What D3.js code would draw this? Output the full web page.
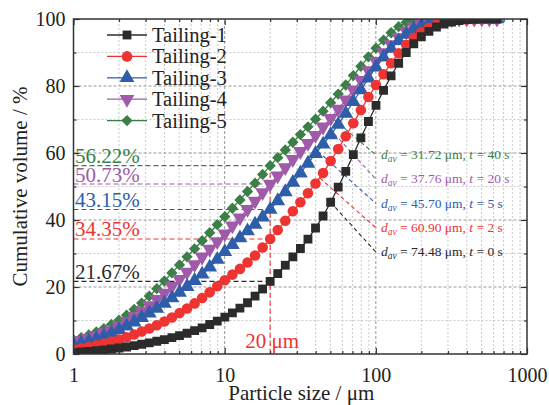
<!DOCTYPE html>
<meta charset="utf-8">
<html lang="en">
<style>
body { margin: 0; background: #fff; }
text { font-family: "Liberation Serif", "Times New Roman", serif; }
.grid-minor { stroke: #bdbdbd; stroke-width: 0.8px; stroke-dasharray: 2,2; }
.grid-major { stroke: #8a8a8a; stroke-width: 0.9px; stroke-dasharray: 3,2; }
.axis path { display: none; }
.axis line { stroke: #333; stroke-width: 1.2px; }
.axis text { font-size: 20px; fill: #222; }
.frame { fill: none; stroke: #333; stroke-width: 1.5px; }
</style>
<body>
<div id="chart"></div>
<script src="https://cdn.jsdelivr.net/npm/d3@7"></script>
<script>
// particle sizes (um), laser diffraction bins
var sizes = [1.002, 1.125, 1.262, 1.416, 1.589, 1.783, 2.000, 2.244, 2.518, 2.825,
  3.170, 3.557, 3.991, 4.477, 5.024, 5.637, 6.325, 7.096, 7.962, 8.934,
  10.024, 11.247, 12.619, 14.159, 15.887, 17.825, 20.000, 22.440, 25.179, 28.251,
  31.698, 35.566, 39.905, 44.774, 50.238, 56.368, 63.246, 70.963, 79.621, 89.337,
  100.237, 112.468, 126.191, 141.589, 158.866, 178.250, 200.000, 224.404, 251.785, 282.508,
  316.979, 355.656, 399.052, 447.744, 502.377, 563.677, 632.456];

// cumulative volume (%)
var tailing1 = [0.4, 0.6, 0.8, 1.0, 1.2, 1.5, 1.8, 2.1, 2.5, 2.9,
  3.3, 3.8, 4.3, 4.9, 5.5, 6.2, 7.0, 7.8, 8.8, 9.8,
  11.0, 12.3, 13.7, 15.3, 17.3, 19.4, 21.67, 24.0, 26.5, 29.0,
  31.5, 34.3, 37.6, 41.2, 45.3, 49.8, 54.5, 59.5, 64.5, 69.4,
  74.2, 78.7, 83.0, 86.8, 90.0, 92.6, 94.7, 96.3, 97.6, 98.5,
  99.1, 99.5, 99.8, 99.9, 100, 100, 100];
var tailing2 = [1.3, 1.7, 2.1, 2.6, 3.1, 3.7, 4.3, 5.0, 5.8, 6.7,
  7.6, 8.6, 9.7, 10.9, 12.2, 13.6, 15.1, 16.7, 18.4, 20.2,
  22.0, 23.7, 25.4, 27.3, 29.4, 31.8, 34.35, 37.0, 39.8, 42.6,
  45.3, 48.0, 50.9, 54.0, 57.6, 61.2, 65.0, 68.9, 72.8, 76.7,
  80.3, 83.5, 86.8, 89.8, 92.3, 94.4, 96.0, 97.3, 98.3, 99.0,
  99.4, 99.7, 99.85, 99.95, 100, 100, 100];
var tailing3 = [2.7, 3.2, 3.8, 4.5, 5.3, 6.2, 7.2, 8.3, 9.5, 10.8,
  12.2, 13.6, 15.1, 16.7, 18.4, 20.1, 21.9, 23.8, 25.9, 28.2,
  30.5, 32.6, 34.6, 36.7, 38.7, 40.8, 43.15, 45.7, 48.4, 51.2,
  54.0, 56.9, 59.8, 62.6, 65.4, 68.5, 71.8, 75.3, 78.8, 82.3,
  85.6, 88.6, 91.2, 93.5, 95.4, 96.9, 98.0, 98.8, 99.3, 99.6,
  99.8, 99.9, 100, 100, 100, 100, 100];
var tailing4 = [3.4, 4.0, 4.7, 5.5, 6.4, 7.4, 8.5, 9.8, 11.2, 12.8,
  14.5, 16.3, 18.2, 20.2, 22.3, 24.5, 26.7, 29.0, 31.3, 33.6,
  35.9, 38.3, 40.7, 43.2, 45.7, 48.2, 50.73, 53.2, 55.7, 58.1,
  60.5, 62.9, 65.3, 67.8, 70.4, 73.1, 75.9, 78.8, 81.7, 84.6,
  87.4, 90.0, 92.4, 94.5, 96.3, 97.7, 98.7, 99.3, 99.6, 99.8,
  99.9, 100, 100, 100, 100, 100, 100];
var tailing5 = [4.2, 4.9, 5.7, 6.6, 7.6, 8.8, 10.1, 11.6, 13.3, 15.2,
  17.3, 19.5, 21.8, 24.2, 26.6, 29.0, 31.4, 33.8, 36.2, 38.6,
  41.0, 43.5, 46.0, 48.5, 51.0, 53.6, 56.22, 58.6, 60.9, 63.2,
  65.5, 67.8, 70.1, 72.5, 75.0, 77.6, 80.3, 83.1, 85.9, 88.7,
  91.3, 93.7, 95.9, 97.7, 99.0, 99.7, 100, 100, 100, 100,
  100, 100, 100, 100, 100, 100, 100];

var names = ["Tailing-1", "Tailing-2", "Tailing-3", "Tailing-4", "Tailing-5"];
var colors = ["#2b2b2b", "#ee3333", "#2e5daa", "#a05aaa", "#3a7f45"];
var seriesValues = [tailing1, tailing2, tailing3, tailing4, tailing5];

// values at 20 um and the mean sizes
var at20 = [21.67, 34.35, 43.15, 50.73, 56.22];
var at20Labels = ["21.67%", "34.35%", "43.15%", "50.73%", "56.22%"];
var davLabels = ["74.48", "60.90", "45.70", "37.76", "31.72"];
var timeLabels = ["0", "2", "5", "20", "40"];
// leader line start on each curve [size, value]
var leaderFrom = [[50.2, 45.3], [42.7, 52.5], [41.4, 60.5], [46, 68.8], [45, 72.7]];

var xTicks = [1, 10, 100, 1000];
var yTicks = [0, 20, 40, 60, 80, 100];
var yMinor = [10, 30, 50, 70, 90];
var xMinor = [];
[1, 10, 100].forEach(function(d){ for (var k = 2; k <= 9; k++) xMinor.push(k * d); });

var width = 549, height = 405,
    margin = {top: 19, right: 22, bottom: 51, left: 73.5};

var svg = d3.select("#chart").append("svg")
    .attr("width", width).attr("height", height);

var x = d3.scaleLog().domain([1, 1000]).range([margin.left, width - margin.right]);
var y = d3.scaleLinear().domain([0, 100]).range([height - margin.bottom, margin.top]);

svg.append("defs").append("clipPath").attr("id", "clip")
  .append("rect")
  .attr("x", x(1)).attr("y", y(100))
  .attr("width", x(1000) - x(1)).attr("height", y(0) - y(100));

// grid
var grid = svg.append("g");
grid.selectAll(".gx").data(xMinor).enter().append("line")
  .attr("class", "grid-minor")
  .attr("x1", x).attr("x2", x).attr("y1", y(0)).attr("y2", y(100));
grid.selectAll(".gxm").data([10, 100]).enter().append("line")
  .attr("class", "grid-major")
  .attr("x1", x).attr("x2", x).attr("y1", y(0)).attr("y2", y(100));
grid.selectAll(".gy").data(yMinor).enter().append("line")
  .attr("class", "grid-minor")
  .attr("x1", x(1)).attr("x2", x(1000)).attr("y1", y).attr("y2", y);
grid.selectAll(".gym").data([20, 40, 60, 80]).enter().append("line")
  .attr("class", "grid-major")
  .attr("x1", x(1)).attr("x2", x(1000)).attr("y1", y).attr("y2", y);

// annotations at 20 um
var ann = svg.append("g");
ann.selectAll(".hl").data(at20).enter().append("line")
  .attr("x1", x(1)).attr("x2", x(20))
  .attr("y1", y).attr("y2", y)
  .attr("stroke", function(d, i){ return colors[i]; })
  .attr("stroke-width", 1.1)
  .attr("stroke-dasharray", "5,3");
ann.append("line")
  .attr("x1", x(20)).attr("x2", x(20))
  .attr("y1", y(0)).attr("y2", y(d3.max(at20)))
  .attr("stroke", colors[1]).attr("stroke-width", 1.1)
  .attr("stroke-dasharray", "5,3");
ann.selectAll(".pl").data(at20).enter().append("text")
  .attr("x", x(1) + 1.5)
  .attr("y", function(d){ return y(d) - 2.5; })
  .attr("fill", function(d, i){ return colors[i]; })
  .style("font-size", "21px")
  .text(function(d, i){ return at20Labels[i]; });
ann.append("text")
  .attr("x", x(20) + 2).attr("y", y(0) - 6)
  .attr("text-anchor", "middle")
  .attr("fill", colors[1])
  .style("font-size", "21px")
  .text("20 \u03bcm");

// mean size labels with leader lines
var labelX = 381, labelY0 = 159, labelStep = 24.3;
var order = [4, 3, 2, 1, 0];
order.forEach(function(i, row){
  var by = labelY0 + row * labelStep;
  ann.append("line")
    .attr("x1", x(leaderFrom[i][0])).attr("y1", y(leaderFrom[i][1]))
    .attr("x2", labelX - 5).attr("y2", by - 4)
    .attr("stroke", colors[i]).attr("stroke-width", 1.1)
    .attr("stroke-dasharray", "4,3");
  var t = ann.append("text")
    .attr("x", labelX).attr("y", by)
    .attr("fill", colors[i])
    .style("font-size", "13.5px");
  t.append("tspan").style("font-style", "italic").text("d");
  t.append("tspan").style("font-style", "italic").style("font-size", "9.5px").attr("dy", 3).text("av");
  t.append("tspan").attr("dy", -3).text(" = " + davLabels[i] + " \u03bcm, ");
  t.append("tspan").style("font-style", "italic").text("t");
  t.append("tspan").text(" = " + timeLabels[i] + " s");
});

// series
var symbols = [
  {type: d3.symbolSquare, size: 78, rot: 0},
  {type: d3.symbolCircle, size: 88, rot: 0},
  {type: d3.symbolTriangle, size: 95, rot: 0},
  {type: d3.symbolTriangle, size: 95, rot: 180},
  {type: d3.symbolSquare, size: 64, rot: 45}
];
var line = d3.line()
  .x(function(d){ return x(d[0]); })
  .y(function(d){ return y(d[1]); });

var plot = svg.append("g").attr("clip-path", "url(#clip)");
[4, 3, 2, 1, 0].forEach(function(i){
  var pts = sizes.map(function(s, j){ return [s, seriesValues[i][j]]; });
  var g = plot.append("g");
  g.append("path").datum(pts)
    .attr("d", line).attr("fill", "none")
    .attr("stroke", colors[i]).attr("stroke-width", 1.3);
  g.selectAll("path.m").data(pts).enter().append("path")
    .attr("class", "m")
    .attr("d", d3.symbol().type(symbols[i].type).size(symbols[i].size))
    .attr("transform", function(d){
      return "translate(" + x(d[0]) + "," + y(d[1]) + ") rotate(" + symbols[i].rot + ")";
    })
    .attr("fill", colors[i]);
});

// axes (ticks inside, mirrored)
function tickAxis(axis, vals, size, labels) {
  return axis.tickValues(vals).tickSizeInner(-size).tickSizeOuter(0)
    .tickFormat(labels ? d3.format("d") : "");
}
var b = y(0), t0 = y(100), l = x(1), r = x(1000);
svg.append("g").attr("class", "axis").attr("transform", "translate(0," + b + ")")
  .call(tickAxis(d3.axisBottom(x), xTicks, 6, true).tickPadding(14));
svg.append("g").attr("class", "axis").attr("transform", "translate(0," + b + ")")
  .call(tickAxis(d3.axisBottom(x), xMinor, 3, false));
svg.append("g").attr("class", "axis").attr("transform", "translate(0," + t0 + ")")
  .call(tickAxis(d3.axisTop(x), xTicks, 6, false));
svg.append("g").attr("class", "axis").attr("transform", "translate(0," + t0 + ")")
  .call(tickAxis(d3.axisTop(x), xMinor, 3, false));
svg.append("g").attr("class", "axis").attr("transform", "translate(" + l + ",0)")
  .call(tickAxis(d3.axisLeft(y), yTicks, 6, true).tickPadding(8));
svg.append("g").attr("class", "axis").attr("transform", "translate(" + l + ",0)")
  .call(tickAxis(d3.axisLeft(y), yMinor, 3, false));
svg.append("g").attr("class", "axis").attr("transform", "translate(" + r + ",0)")
  .call(tickAxis(d3.axisRight(y), yTicks, 6, false));
svg.append("g").attr("class", "axis").attr("transform", "translate(" + r + ",0)")
  .call(tickAxis(d3.axisRight(y), yMinor, 3, false));

svg.append("rect").attr("class", "frame")
  .attr("x", l).attr("y", t0).attr("width", r - l).attr("height", b - t0);

// axis titles
svg.append("text")
  .attr("x", (l + r) / 2 + 1).attr("y", 400)
  .attr("text-anchor", "middle").style("font-size", "21px").attr("fill", "#222")
  .text("Particle size / \u03bcm");
svg.append("text")
  .attr("transform", "translate(27," + ((b + t0) / 2) + ") rotate(-90)")
  .attr("text-anchor", "middle").style("font-size", "21px").attr("fill", "#222")
  .text("Cumulative volume / %");

// legend
var legend = svg.append("g");
names.forEach(function(n, i){
  var ly = 35 + i * 21.4;
  legend.append("line")
    .attr("x1", 107).attr("x2", 147).attr("y1", ly).attr("y2", ly)
    .attr("stroke", colors[i]).attr("stroke-width", 1.3);
  legend.append("path")
    .attr("d", d3.symbol().type(symbols[i].type).size(symbols[i].size))
    .attr("transform", "translate(127," + ly + ") rotate(" + symbols[i].rot + ")")
    .attr("fill", colors[i]);
  legend.append("text")
    .attr("x", 152).attr("y", ly).attr("dy", "0.34em")
    .style("font-size", "20.5px").attr("fill", "#222")
    .text(n);
});
</script>
</body>
</html>
